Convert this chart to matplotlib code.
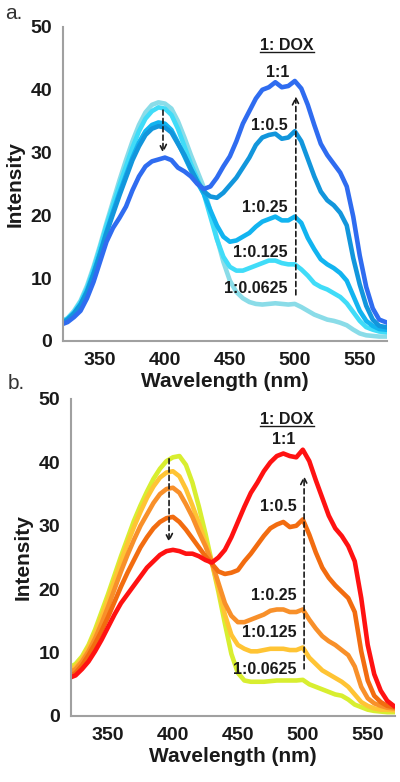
import numpy as np
import matplotlib
matplotlib.use("Agg")
import matplotlib.pyplot as plt

plt.rcParams['font.family'] = ['Liberation Sans', 'DejaVu Sans']

# wavelength grid (nm)
wl = list(range(320, 571, 5))

# panel a: blue series
a_1_1 = [2.6, 3.0, 3.8, 4.8, 6.8, 9.4, 12.6, 15.8, 18.0, 19.6, 21.4, 24.0, 26.2, 27.8, 28.6, 28.9, 29.2,
         28.8, 27.6, 27.0, 26.2, 25.0, 24.2, 24.6, 26.0, 27.8, 29.4, 31.8, 34.6, 36.6, 38.6, 40.0, 40.4,
         41.2, 40.4, 40.6, 41.4, 40.2, 37.6, 34.4, 31.4, 29.6, 28.2, 26.8, 24.6, 19.8, 13.6, 8.6, 5.2, 3.4, 3.0]
a_1_05 = [2.8, 3.4, 4.4, 5.8, 7.8, 10.6, 13.8, 17.2, 20.2, 23.2, 26.0, 28.8, 31.0, 32.8, 33.8, 34.2, 34.0,
          33.2, 31.4, 29.6, 27.4, 25.4, 23.8, 23.0, 22.8, 23.6, 24.8, 26.0, 27.6, 29.2, 31.2, 32.4, 32.8,
          33.0, 32.2, 32.4, 33.4, 31.8, 29.0, 26.2, 23.8, 22.4, 21.6, 20.4, 18.4, 13.2, 9.0, 5.6, 3.4, 2.4, 2.2]
a_1_025 = [2.8, 3.4, 4.4, 5.8, 8.0, 10.8, 14.0, 17.4, 20.6, 23.6, 26.4, 29.2, 31.6, 33.4, 34.4, 34.8, 34.6,
           33.6, 31.6, 29.4, 27.2, 25.2, 23.4, 20.8, 18.4, 16.6, 15.8, 16.0, 16.6, 17.2, 18.2, 19.0, 19.4,
           19.8, 19.2, 19.2, 19.8, 18.8, 16.4, 14.6, 13.0, 12.2, 11.6, 10.8, 9.6, 7.2, 4.8, 3.2, 2.4, 1.9, 1.8]
a_1_0125 = [3.0, 3.6, 4.6, 6.2, 8.4, 11.4, 14.8, 18.4, 21.6, 24.8, 27.8, 30.8, 33.4, 35.4, 36.6, 37.2, 37.0,
            36.0, 33.8, 31.0, 28.2, 25.8, 23.4, 19.8, 16.2, 13.4, 11.8, 11.2, 11.2, 11.6, 12.0, 12.4, 12.8,
            12.8, 12.4, 12.2, 12.2, 11.4, 10.4, 9.2, 8.6, 8.2, 7.6, 7.0, 6.0, 4.6, 3.2, 2.2, 1.8, 1.5, 1.4]
a_1_00625 = [3.0, 3.6, 4.8, 6.4, 8.8, 11.8, 15.2, 18.8, 22.2, 25.6, 28.8, 31.8, 34.4, 36.4, 37.6, 38.0, 37.8,
             37.0, 35.0, 32.4, 29.6, 27.0, 24.4, 20.6, 16.4, 12.6, 9.6, 7.8, 6.8, 6.2, 5.9, 5.8, 5.9,
             6.0, 5.9, 5.8, 5.9, 5.4, 4.8, 4.2, 3.8, 3.4, 3.2, 2.9, 2.5, 1.8, 1.2, 0.9, 0.8, 0.7, 0.7]

# panel b: red/yellow series
b_1_1 = [6.0, 6.4, 7.4, 8.6, 10.2, 12.0, 14.0, 16.0, 17.8, 19.2, 20.6, 22.0, 23.4, 24.4, 25.4, 26.0, 26.2,
         26.0, 25.6, 25.6, 25.2, 24.6, 24.2, 25.0, 26.2, 28.2, 30.6, 33.0, 35.2, 36.8, 38.6, 40.0, 41.0,
         41.4, 41.0, 40.8, 42.0, 40.2, 37.2, 34.4, 31.6, 29.6, 28.4, 26.8, 24.4, 18.6, 11.2, 6.6, 4.0, 2.4, 1.6]
b_1_05 = [6.2, 6.8, 8.0, 9.6, 11.4, 13.4, 15.6, 18.0, 20.4, 22.6, 24.6, 26.6, 28.2, 29.6, 30.6, 31.2, 31.4,
          30.6, 29.4, 28.0, 26.6, 25.2, 24.0, 22.8, 22.4, 22.6, 23.0, 24.4, 25.6, 27.0, 28.4, 29.6, 30.2,
          30.6, 29.8, 30.0, 31.0, 28.6, 25.8, 23.4, 21.8, 20.6, 19.6, 18.6, 16.4, 10.2, 5.6, 3.2, 2.2, 1.6, 1.4]
b_1_025 = [6.8, 7.4, 8.6, 10.2, 12.2, 14.6, 17.2, 20.0, 22.8, 25.4, 27.8, 30.0, 31.8, 33.6, 35.0, 35.8, 36.0,
           35.2, 33.4, 31.4, 29.0, 26.8, 24.2, 21.0, 17.8, 15.8, 14.8, 14.8, 15.2, 15.6, 16.0, 16.6, 16.8,
           16.8, 16.4, 16.4, 16.8, 15.2, 13.8, 12.6, 11.8, 11.2, 10.4, 9.6, 7.8, 4.6, 2.8, 2.0, 1.6, 1.3, 1.2]
b_1_0125 = [7.2, 7.8, 9.0, 10.8, 13.0, 15.6, 18.4, 21.4, 24.4, 27.2, 29.8, 32.2, 34.4, 36.2, 37.6, 38.4, 38.6,
            37.8, 35.8, 33.2, 30.4, 27.4, 24.2, 20.2, 16.0, 12.8, 11.2, 10.6, 10.2, 10.2, 10.4, 10.6, 10.6,
            10.6, 10.4, 10.4, 10.8, 9.2, 8.2, 7.2, 6.6, 6.0, 5.4, 4.6, 3.4, 2.2, 1.6, 1.2, 1.0, 1.0, 0.9]
b_1_00625 = [7.6, 8.2, 9.4, 11.2, 13.6, 16.4, 19.2, 22.2, 25.2, 28.0, 30.8, 33.2, 35.4, 37.4, 39.0, 40.2, 40.8,
             41.0, 39.6, 36.8, 33.0, 28.8, 24.2, 19.6, 14.6, 9.8, 6.8, 5.6, 5.4, 5.4, 5.4, 5.5, 5.6,
             5.6, 5.6, 5.6, 5.7, 5.0, 4.6, 4.2, 3.8, 3.4, 3.2, 2.6, 1.8, 1.4, 1.0, 0.8, 0.7, 0.6, 0.6]

ratio_labels = ["1:1", "1:0.5", "1:0.25", "1:0.125", "1:0.0625"]
a_colors = ["#2f6cf0", "#1296dc", "#12b4f0", "#40dcf8", "#8adce8"]
b_colors = ["#ff1212", "#f26c10", "#f8902a", "#ffc434", "#d8ee30"]

a_series = [a_1_1, a_1_05, a_1_025, a_1_0125, a_1_00625]
b_series = [b_1_1, b_1_05, b_1_025, b_1_0125, b_1_00625]

# label positions (wavelength, intensity, alignment)
a_lab = [(487, 42.8, 'center'), (494.5, 34.3, 'right'), (494.5, 21.2, 'right'),
         (494.5, 14.1, 'right'), (494.5, 8.4, 'right')]
b_lab = [(485, 43.6, 'center'), (495.5, 33.0, 'right'), (495.5, 19.0, 'right'),
         (495.5, 13.2, 'right'), (495.5, 7.3, 'right')]

fig = plt.figure(figsize=(4, 7.82), dpi=100)
ax_a = fig.add_axes([0.1575, 0.564, 0.81, 0.4015])
ax_b = fig.add_axes([0.1775, 0.0844, 0.81, 0.4054])


def draw_panel(ax, series, colors, lab_pos, dox_pos, down, up):
    for s, c in zip(series[::-1], colors[::-1]):
        ax.plot(wl, s, color=c, lw=3.3, solid_joinstyle='round')
    ax.set_xlim(321.5, 571)
    ax.set_ylim(0, 50)
    ax.set_xticks([350, 400, 450, 500, 550])
    ax.set_yticks([0, 10, 20, 30, 40, 50])
    for sp in ['top', 'right']:
        ax.spines[sp].set_visible(False)
    for sp in ['left', 'bottom']:
        ax.spines[sp].set_color('#a0a0a0')
        ax.spines[sp].set_linewidth(1.5)
    ax.tick_params(length=0, labelsize=14, pad=8)
    for t in ax.get_xticklabels() + ax.get_yticklabels():
        t.set_fontweight('bold')
        t.set_color('#1a1a1a')
    ax.set_xlabel('Wavelength (nm)', fontsize=15, fontweight='bold', labelpad=2, color='#1a1a1a')
    ax.set_ylabel('Intensity', fontsize=15, fontweight='bold', labelpad=4, color='#1a1a1a')
    for txt, (x, y, ha) in zip(ratio_labels, lab_pos):
        ax.text(x, y, txt, ha=ha, va='center', fontsize=11.5, fontweight='bold', color='#1a1a1a')
    ax.text(dox_pos[0], dox_pos[1], '1: DOX', ha='center', va='center', fontsize=11.5,
            fontweight='bold', color='#1a1a1a')
    ax.plot([dox_pos[0] - 21, dox_pos[0] + 21], [dox_pos[1] - 1.1] * 2, color='#1a1a1a', lw=1)
    for (x, y0, y1) in [down, up]:
        ax.annotate('', xy=(x, y1), xytext=(x, y0),
                    arrowprops=dict(arrowstyle='->', color='#1a1a1a', lw=1.2,
                                    linestyle=(0, (3, 2)), mutation_scale=12))


draw_panel(ax_a, a_series, a_colors, a_lab, (494, 47.1), (398.5, 37.2, 29.5), (500.8, 6.9, 39.4))
draw_panel(ax_b, b_series, b_colors, b_lab, (488, 46.8), (397, 41.0, 27.0), (501, 7.0, 38.3))

fig.text(0.013, 0.983, 'a.', fontsize=15, va='center', ha='left', color='#333333')
fig.text(0.018, 0.51, 'b.', fontsize=15, va='center', ha='left', color='#333333')

fig.savefig('out.png', dpi=100)
